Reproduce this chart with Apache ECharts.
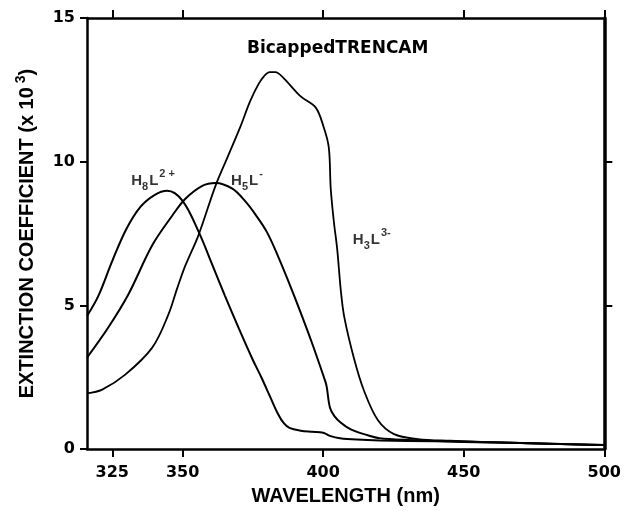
<!DOCTYPE html>
<html>
<head>
<meta charset="utf-8">
<script src="https://cdn.jsdelivr.net/npm/echarts@6/dist/echarts.min.js"></script>
<style>
  html, body { margin: 0; padding: 0; background: #fff; }
  #chart { width: 624px; height: 511px; }
</style>
</head>
<body>
<div id="chart"></div>
<script>
// Absorption spectra of BicappedTRENCAM in three protonation states
// wavelength in nm, extinction coefficient in units of 10^3

const h8Wavelength = [316, 320, 325, 330, 335, 340, 344.5, 350, 356, 360, 365, 370, 375, 378, 381, 383.8, 386, 388, 392, 396, 400, 402.7, 406, 412, 420, 440, 460, 480, 500];
const h8Epsilon    = [4.63, 5.32, 6.55, 7.66, 8.43, 8.84, 8.99, 8.64, 7.5, 6.55, 5.35, 4.2, 3.1, 2.5, 1.85, 1.25, 0.9, 0.74, 0.64, 0.6, 0.57, 0.45, 0.38, 0.33, 0.3, 0.27, 0.23, 0.19, 0.14];

const h5Wavelength = [316, 323.5, 330.6, 339.2, 346.3, 351, 357, 361.7, 367.7, 372.4, 376, 380, 384, 388, 392, 396, 400.3, 401.2, 402.4, 404, 406.3, 410, 415.9, 420, 430, 450, 475, 500];
const h5Epsilon    = [3.18, 4.22, 5.36, 7.09, 8.12, 8.71, 9.16, 9.26, 9.06, 8.61, 8.15, 7.55, 6.7, 5.75, 4.75, 3.7, 2.49, 2.2, 1.45, 1.15, 0.92, 0.68, 0.48, 0.38, 0.32, 0.26, 0.2, 0.14];

const h3Wavelength = [316, 321.4, 329.6, 339.2, 344.9, 348.1, 351, 355.6, 361.7, 366, 370.6, 374, 377, 379, 381, 383, 386, 392, 397.3, 400.2, 402, 402.7, 403.8, 405, 406.3, 407.5, 410.9, 414.5, 419.5, 425.2, 433.7, 445, 460.8, 484.7, 500];
const h3Epsilon    = [1.94, 2.07, 2.59, 3.53, 4.67, 5.6, 6.39, 7.43, 9.16, 10.16, 11.23, 12.1, 12.7, 12.98, 13.12, 13.12, 12.9, 12.27, 11.89, 11.2, 10.5, 9.06, 7.92, 6.95, 5.5, 4.6, 3.18, 2.04, 1.0, 0.52, 0.35, 0.29, 0.24, 0.17, 0.14];

const xTickValues = [325, 350, 400, 450, 500];
const yTickValues = [0, 5, 10, 15];
const rightTickValues = [5, 10];

// curve labels: [wavelength, epsilon] anchor and rich-text content
const curveLabels = [
  { pos: [339.5, 9.33], text: '{m|H}{sub|8}{m|L}{sup|2 +}' },
  { pos: [372.9, 9.33], text: '{m|H}{sub|5}{m|L}{sup|-}' },
  { pos: [417.3, 7.29], text: '{m|H}{sub|3}{m|L}{sup|3-}' }
];

const pair = (xs, ys) => xs.map((x, i) => [x, ys[i]]);

const FONT = 'Liberation Sans, Arial, sans-serif';
const TICKFONT = 'DejaVu Sans, sans-serif';

const labelRich = {
  m:   { fontFamily: FONT, fontWeight: 'bold', fontSize: 15, color: '#000', lineHeight: 24, verticalAlign: 'middle' },
  sub: { fontFamily: FONT, fontWeight: 'bold', fontSize: 11, color: '#000', lineHeight: 11, verticalAlign: 'bottom', padding: [0, 1, 0, 0] },
  sup: { fontFamily: FONT, fontWeight: 'bold', fontSize: 11, color: '#000', lineHeight: 11, verticalAlign: 'top', padding: [0, 0, 0, 1] }
};

const curveStyle = { color: '#000', width: 2 };

const chart = echarts.init(document.getElementById('chart'), null, { renderer: 'canvas' });

const frameAxis = (extra) => Object.assign({
  type: 'value',
  axisLine: { show: true, onZero: false, lineStyle: { color: '#000', width: 2.5 } },
  axisLabel: { show: false },
  splitLine: { show: false }
}, extra);

chart.setOption({
  animation: false,
  backgroundColor: '#fff',
  title: {
    text: 'BicappedTRENCAM',
    left: 242,
    top: 35,
    textStyle: { fontFamily: TICKFONT, fontWeight: 'bold', fontSize: 17, color: '#000' }
  },
  grid: { left: 87, right: 19, top: 18, bottom: 59 },
  xAxis: [
    frameAxis({
      position: 'bottom', min: 316, max: 500,
      name: 'WAVELENGTH (nm)', nameLocation: 'middle', nameGap: 30,
      nameTextStyle: { fontFamily: FONT, fontWeight: 'bold', fontSize: 20, color: '#000' },
      axisTick: { show: true, inside: false, length: 8, customValues: xTickValues, lineStyle: { color: '#000', width: 2 } },
      axisLabel: { show: true, margin: 16, customValues: xTickValues, fontFamily: TICKFONT, fontWeight: 'bold', fontSize: 16, color: '#000' }
    }),
    frameAxis({
      position: 'top', min: 316, max: 500,
      axisTick: { show: true, inside: false, length: 8, customValues: xTickValues, lineStyle: { color: '#000', width: 2 } }
    })
  ],
  yAxis: [
    frameAxis({
      position: 'left', min: 0, max: 15, interval: 5,
      name: 'EXTINCTION COEFFICIENT (x 10{sup| 3})', nameLocation: 'middle', nameGap: 52, nameRotate: 90,
      nameTextStyle: {
        fontFamily: FONT, fontWeight: 'bold', fontSize: 20, color: '#000', lineHeight: 28, verticalAlign: 'middle',
        rich: { sup: { fontFamily: FONT, fontWeight: 'bold', fontSize: 14, color: '#000', lineHeight: 14, verticalAlign: 'top' } }
      },
      axisTick: { show: true, inside: false, length: 7, customValues: yTickValues, lineStyle: { color: '#000', width: 2 } },
      axisLabel: { show: true, margin: 12, customValues: yTickValues, fontFamily: TICKFONT, fontWeight: 'bold', fontSize: 16, color: '#000' }
    }),
    frameAxis({
      position: 'right', min: 0, max: 15,
      axisLine: { show: true, onZero: false, lineStyle: { color: '#000', width: 3.5 } },
      axisTick: { show: true, inside: false, length: 8, customValues: rightTickValues, lineStyle: { color: '#000', width: 2 } }
    })
  ],
  series: [
    { name: 'H8L2+', type: 'line', data: pair(h8Wavelength, h8Epsilon), showSymbol: false, symbol: 'none',
      smooth: 0.35, lineStyle: curveStyle, itemStyle: { color: '#000' } },
    { name: 'H5L-', type: 'line', data: pair(h5Wavelength, h5Epsilon), showSymbol: false, symbol: 'none',
      smooth: 0.35, lineStyle: curveStyle, itemStyle: { color: '#000' } },
    { name: 'H3L3-', type: 'line', data: pair(h3Wavelength, h3Epsilon), showSymbol: false, symbol: 'none',
      smooth: 0.35, lineStyle: { color: '#000', width: 1.8 }, itemStyle: { color: '#000' } },
    {
      name: 'labels', type: 'scatter', symbolSize: 0, silent: true,
      data: curveLabels.map(l => ({ value: l.pos, label: { formatter: l.text } })),
      label: { show: true, position: 'inside', rich: labelRich }
    }
  ]
});
</script>
</body>
</html>
